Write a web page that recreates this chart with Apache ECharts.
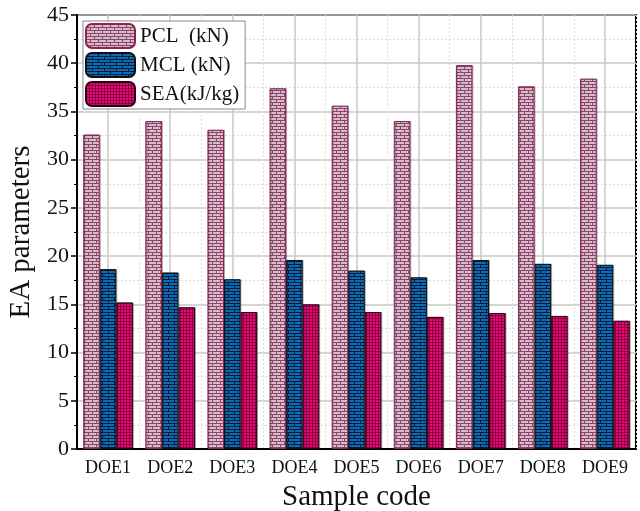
<!DOCTYPE html>
<html>
<head>
<meta charset="utf-8">
<script src="https://cdn.jsdelivr.net/npm/echarts@6/dist/echarts.min.js"></script>
<style>html,body{margin:0;padding:0;background:#fff}#c{width:640px;height:511px}</style>
</head>
<body>
<div id="c"></div>
<script>
const categories = ['DOE1','DOE2','DOE3','DOE4','DOE5','DOE6','DOE7','DOE8','DOE9'];
const seriesNames = ['PCL  (kN)', 'MCL (kN)', 'SEA(kJ/kg)'];
const pclValues = [32.6, 34.0, 33.1, 37.4, 35.6, 34.0, 39.8, 37.6, 38.4];
const mclValues = [18.65, 18.3, 17.6, 19.6, 18.5, 17.8, 19.6, 19.2, 19.1];
const seaValues = [15.2, 14.7, 14.2, 15.0, 14.2, 13.7, 14.1, 13.8, 13.3];
const yTicks = {min: 0, max: 45, interval: 5};

function brick(w, h, fill, mortar) {
  const c = document.createElement('canvas');
  c.width = w; c.height = h;
  const g = c.getContext('2d');
  g.fillStyle = fill; g.fillRect(0, 0, w, h);
  g.fillStyle = mortar;
  const hh = h / 2;
  g.fillRect(0, 0, w, 1);
  g.fillRect(0, hh, w, 1);
  g.fillRect(0, 1, 1, hh - 1);
  g.fillRect(w / 2, hh + 1, 1, hh - 1);
  return c;
}
function grid(w, h, fill, line) {
  const c = document.createElement('canvas');
  c.width = w; c.height = h;
  const g = c.getContext('2d');
  g.fillStyle = fill; g.fillRect(0, 0, w, h);
  g.fillStyle = line;
  g.fillRect(0, 0, w, 1);
  g.fillRect(0, 0, 1, h);
  return c;
}
const pclPattern = {image: brick(8, 6, '#d4bcc8', '#8f4469'), repeat: 'repeat'};
const mclPattern = {image: brick(12, 6, '#0a6cb6', '#0b1a30'), repeat: 'repeat'};
const seaPattern = {image: grid(3, 3, '#ea0a78', '#8a0040'), repeat: 'repeat'};

const FONT = '"Liberation Serif", "Times New Roman", serif';
const chart = echarts.init(document.getElementById('c'), null, {renderer: 'canvas'});
const barStyle = (color, border) => ({color: color, borderColor: border, borderWidth: 1,
  shadowColor: 'rgba(0,0,0,0.25)', shadowOffsetX: 1, shadowOffsetY: 0, shadowBlur: 0});
chart.setOption({
  animation: false,
  grid: {left: 77, right: 4, top: 15, bottom: 62, containLabel: false, outerBoundsMode: 'none',
    show: true, borderColor: '#000', borderWidth: 2, backgroundColor: 'transparent'},
  legend: {
    left: 83, top: 21, orient: 'vertical', itemWidth: 49, itemHeight: 24, itemGap: 3,
    backgroundColor: '#fff', borderColor: '#8a8a8a', borderWidth: 1, padding: [2, 6, 2, 2],
    textStyle: {fontFamily: FONT, fontSize: 21, color: '#111'},
    data: seriesNames
  },
  xAxis: [{
    type: 'category', data: categories, position: 'bottom',
    axisLine: {lineStyle: {color: '#000', width: 2}},
    axisTick: {alignWithLabel: true, length: 6, lineStyle: {color: '#000', width: 1.5}},
    axisLabel: {fontFamily: FONT, fontSize: 18, color: '#111', margin: 10},
    splitLine: {show: true, alignWithLabel: true, lineStyle: {color: '#c8c8c8', width: 1.5}},
    name: 'Sample code', nameLocation: 'middle', nameGap: 34,
    nameTextStyle: {fontFamily: FONT, fontSize: 29, color: '#111'}
  }, {
    type: 'category', data: categories, position: 'bottom',
    axisLine: {show: false},
    axisTick: {length: 3, lineStyle: {color: '#000', width: 1}},
    axisLabel: {show: false},
    splitLine: {show: true, lineStyle: {color: '#dcdcdc', width: 1, type: [2, 2]}}
  }],
  yAxis: {
    type: 'value', min: yTicks.min, max: yTicks.max, interval: yTicks.interval,
    axisLine: {show: true, lineStyle: {color: '#000', width: 2}},
    axisTick: {show: true, length: 6, lineStyle: {color: '#000', width: 1.5}},
    minorTick: {show: true, splitNumber: 2, length: 3, lineStyle: {color: '#000', width: 1}},
    axisLabel: {fontFamily: FONT, fontSize: 22, color: '#111', margin: 8},
    splitLine: {show: true, lineStyle: {color: '#c8c8c8', width: 1.5}},
    minorSplitLine: {show: true, lineStyle: {color: '#dcdcdc', width: 1, type: [2, 2]}},
    name: 'EA parameters', nameLocation: 'middle', nameGap: 32,
    nameTextStyle: {fontFamily: FONT, fontSize: 29, color: '#111'}
  },
  series: [
    {name: seriesNames[0], type: 'bar', data: pclValues, barGap: '0%', barCategoryGap: '20%', itemStyle: barStyle(pclPattern, '#8a2256')},
    {name: seriesNames[1], type: 'bar', data: mclValues, barGap: '0%', barCategoryGap: '20%', itemStyle: barStyle(mclPattern, '#111')},
    {name: seriesNames[2], type: 'bar', data: seaValues, barGap: '0%', barCategoryGap: '20%', itemStyle: barStyle(seaPattern, '#2a0015')}
  ]
});
</script>
</body>
</html>
